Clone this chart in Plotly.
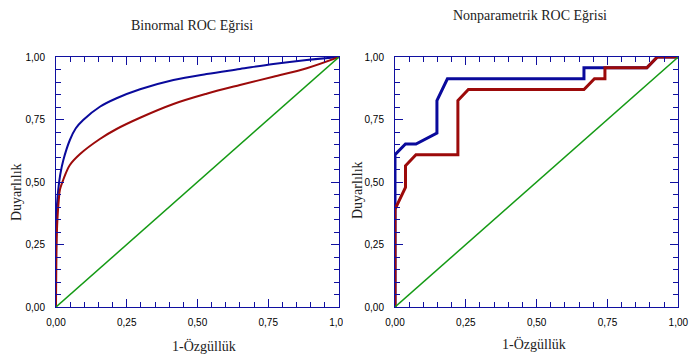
import plotly.graph_objects as go

W, H = 700, 356

# ---- Data ----
# Binormal ROC curves
bin_blue_fpr = [0, 0.001, 0.003, 0.008, 0.015, 0.026, 0.049, 0.07, 0.096, 0.155, 0.214, 0.297, 0.415, 0.532, 0.65, 0.768, 0.886, 1.0]
bin_blue_tpr = [0, 0.30, 0.40, 0.47, 0.53, 0.588, 0.668, 0.715, 0.748, 0.801, 0.835, 0.871, 0.908, 0.932, 0.952, 0.972, 0.988, 1.0]
bin_red_fpr = [0, 0.002, 0.005, 0.01, 0.014, 0.026, 0.049, 0.085, 0.155, 0.214, 0.297, 0.415, 0.532, 0.65, 0.768, 0.886, 1.0]
bin_red_tpr = [0, 0.25, 0.35, 0.43, 0.47, 0.51, 0.568, 0.612, 0.672, 0.712, 0.757, 0.812, 0.853, 0.888, 0.921, 0.955, 1.0]

# Nonparametric (empirical) ROC curves
np_blue_fpr = [0, 0, 0.037, 0.074, 0.148, 0.148, 0.185, 0.667, 0.667, 0.741, 0.889, 0.926, 1.0]
np_blue_tpr = [0, 0.609, 0.652, 0.652, 0.696, 0.826, 0.913, 0.913, 0.957, 0.957, 0.957, 1.0, 1.0]
np_red_fpr = [0, 0, 0.037, 0.037, 0.074, 0.222, 0.222, 0.259, 0.667, 0.704, 0.741, 0.741, 0.889, 0.926, 1.0]
np_red_tpr = [0, 0.391, 0.478, 0.565, 0.609, 0.609, 0.826, 0.870, 0.870, 0.913, 0.913, 0.957, 0.957, 1.0, 1.0]

# Reference (chance) diagonal
diag = [0, 1]

tick_vals = [0, 0.25, 0.5, 0.75, 1.0]
titles = ["Binormal ROC Eğrisi", "Nonparametrik ROC Eğrisi"]
x_title = "1-Özgüllük"
y_title = "Duyarlılık"

BLUE = "#0a0a9c"
RED = "#9c0a0a"
GREEN = "#149a14"
AXIS = "#1010a0"

fig = go.Figure()

# left panel
fig.add_trace(go.Scatter(x=bin_blue_fpr, y=bin_blue_tpr, mode="lines", line=dict(color=BLUE, width=2, shape="spline", smoothing=1), xaxis="x", yaxis="y", showlegend=False))
fig.add_trace(go.Scatter(x=bin_red_fpr, y=bin_red_tpr, mode="lines", line=dict(color=RED, width=2, shape="spline", smoothing=1), xaxis="x", yaxis="y", showlegend=False))
fig.add_trace(go.Scatter(x=diag, y=diag, mode="lines", line=dict(color=GREEN, width=1.5), xaxis="x", yaxis="y", showlegend=False))

# right panel
fig.add_trace(go.Scatter(x=np_blue_fpr, y=np_blue_tpr, mode="lines", line=dict(color=BLUE, width=3), xaxis="x2", yaxis="y2", showlegend=False))
fig.add_trace(go.Scatter(x=np_red_fpr, y=np_red_tpr, mode="lines", line=dict(color=RED, width=3), xaxis="x2", yaxis="y2", showlegend=False))
fig.add_trace(go.Scatter(x=diag, y=diag, mode="lines", line=dict(color=GREEN, width=1.5), xaxis="x2", yaxis="y2", showlegend=False))

tickfont = dict(family="Liberation Sans, Arial, sans-serif", size=10, color="#000")

def axis(domain, anchor, standoff):
    return dict(
        domain=domain, anchor=anchor, range=[0, 1], fixedrange=True, automargin=False,
        showline=True, linecolor=AXIS, linewidth=1, mirror="ticks",
        ticks="inside", ticklen=8, tickcolor=AXIS, tickwidth=1,
        tickvals=tick_vals, tickformat=".2f", tickfont=tickfont,
        ticklabelstandoff=standoff,
        minor=dict(dtick=0.05, tick0=0, ticks="inside", ticklen=5, tickcolor=AXIS, tickwidth=1, showgrid=False),
        showgrid=False, zeroline=False,
    )

ydom = [(H - 307) / H, (H - 57) / H]
fig.update_layout(
    width=W, height=H,
    margin=dict(l=0, r=0, t=0, b=0),
    paper_bgcolor="white", plot_bgcolor="white",
    separators=",.",
    hovermode=False,
    xaxis=axis([56 / W, 339 / W], "y", 6),
    yaxis=axis(ydom, "x", 8),
    xaxis2=axis([395 / W, 678.3 / W], "y2", 6),
    yaxis2=axis(ydom, "x2", 8),
)

serif = dict(family="Liberation Serif, Times New Roman, serif", size=14, color="#222")

def ann(text, x, y, angle=0):
    fig.add_annotation(text=text, x=x / W, y=1 - y / H, xref="paper", yref="paper",
                       showarrow=False, font=serif, textangle=angle,
                       xanchor="center", yanchor="middle")

ann(titles[0], 192, 25)
ann(titles[1], 530, 15)
ann(x_title, 204, 346)
ann(x_title, 534, 344)
ann(y_title, 16, 192, -90)
ann(y_title, 357, 190, -90)

# the reference clips the last tick label of the left panel
fig.add_shape(type="rect", xref="paper", yref="paper", x0=343 / W, x1=351 / W,
              y0=1 - 332 / H, y1=1 - 312 / H, fillcolor="white", line=dict(width=0), layer="above")

fig.write_html("out.html", config={"displayModeBar": False, "staticPlot": True},
               post_script="document.body.style.margin='0';document.body.style.overflow='hidden';")
